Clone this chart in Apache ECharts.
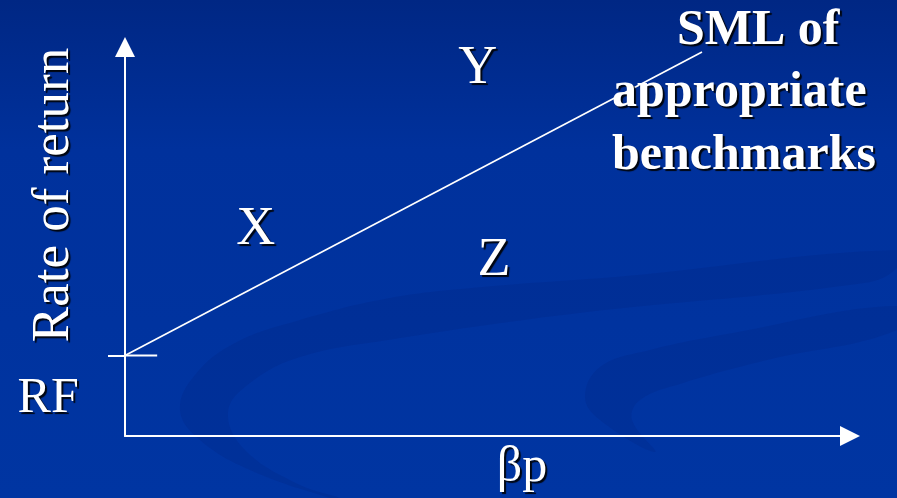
<!DOCTYPE html>
<html>
<head>
<meta charset="utf-8">
<script src="https://cdn.jsdelivr.net/npm/echarts@6/dist/echarts.min.js"></script>
<style>
html, body { margin: 0; padding: 0; background: #0033a0; }
#chart { width: 897px; height: 498px; }
</style>
</head>
<body>
<div id="chart"></div>
<script>
// axis ranges (beta on x, rate of return on y)
var betaMin = 0, betaMax = 2;
var returnMin = 0, returnMax = 20;

// security market line, starting at the risk free rate
var rfReturn = 4.25;
var smlBeta = [0, 1.614];
var smlReturn = [rfReturn, 20.26];

// short tick that marks RF, right hand part (left part is the axis tick)
var rfTickBeta = [0, 0.09];
var rfTickReturn = [rfReturn, rfReturn];

// portfolio labels
var pointNames = ['X', 'Y', 'Z', 'RF'];
var pointBeta = [0.366, 0.987, 1.032, -0.215];
var pointReturn = [10.9, 19.4, 9.25, 1.98];

var titleLines = ['SML of', 'appropriate', 'benchmarks'];

var serif = 'Liberation Serif';
var shadow = {
    textShadowColor: 'rgba(0,0,0,0.9)',
    textShadowBlur: 1,
    textShadowOffsetX: 2,
    textShadowOffsetY: 2
};

function pairs(xs, ys) {
    return xs.map(function (x, i) { return [x, ys[i]]; });
}

var labelData = pointNames.map(function (n, i) {
    return {
        name: n,
        value: [pointBeta[i], pointReturn[i]],
        label: { fontSize: n === 'RF' ? 50 : 54 }
    };
});

var myChart = echarts.init(document.getElementById('chart'));

option = {
    animation: false,
    graphic: [
        {
            type: 'rect', z: -100, silent: true,
            shape: { x: 0, y: 0, width: 897, height: 498 },
            style: {
                fill: {
                    type: 'linear', x: 0, y: 0, x2: 0, y2: 1,
                    colorStops: [
                        { offset: 0, color: '#002784' },
                        { offset: 0.3, color: '#00319c' },
                        { offset: 1, color: '#0035a2' }
                    ]
                }
            }
        },
        {
            type: 'polygon', z: -90, silent: true,
            shape: {
                smooth: 0.4,
                points: [[330,498],[250,470],[200,440],[180,410],[195,375],[235,343],[300,320],[390,298],[483,287],[626,276],[897,250],
                         [897,268],[864,283],[579,313],[388,340],[300,357],[250,383],[228,412],[245,450],[300,485],[340,498]]
            },
            style: { fill: 'rgba(0,30,110,0.15)' }
        },
        {
            type: 'polygon', z: -90, silent: true,
            shape: {
                smooth: 0.4,
                points: [[655,452],[600,420],[585,397],[600,367],[650,350],[733,333],[897,306],
                         [897,330],[767,360],[683,383],[640,400],[632,420]]
            },
            style: { fill: 'rgba(0,30,110,0.15)' }
        },
        {
            type: 'text', left: 677, top: 6, z: 10,
            style: Object.assign({ text: titleLines[0], fill: '#fff', font: 'bold 50px Liberation Serif' }, shadow)
        },
        {
            type: 'text', left: 612, top: 68, z: 10,
            style: Object.assign({ text: titleLines[1], fill: '#fff', font: 'bold 50px Liberation Serif' }, shadow)
        },
        {
            type: 'text', left: 612, top: 131, z: 10,
            style: Object.assign({ text: titleLines[2], fill: '#fff', font: 'bold 50px Liberation Serif' }, shadow)
        }
    ],
    grid: {
        left: 125,
        right: 57,
        top: 57,
        bottom: 62,
        outerBoundsMode: 'none'
    },
    xAxis: {
        type: 'value',
        min: betaMin,
        max: betaMax,
        name: 'βp',
        nameLocation: 'middle',
        nameGap: 7,
        nameTextStyle: Object.assign({
            color: '#ffffff', fontFamily: serif, fontSize: 50,
            padding: [0, 0, 0, 79]
        }, shadow),
        axisLine: {
            show: true,
            symbol: ['none', 'triangle'],
            symbolSize: [20, 20],
            symbolOffset: [0, 10],
            lineStyle: { color: '#fff', width: 2 }
        },
        axisTick: { show: false },
        axisLabel: { show: false },
        splitLine: { show: false }
    },
    yAxis: {
        type: 'value',
        min: returnMin,
        max: returnMax,
        name: 'Rate of return',
        nameLocation: 'middle',
        nameGap: 44,
        nameTextStyle: Object.assign({
            color: '#ffffff', fontFamily: serif, fontSize: 53,
            padding: [0, 0, 0, 103]
        }, shadow),
        axisLine: {
            show: true,
            symbol: ['none', 'triangle'],
            symbolSize: [20, 20],
            symbolOffset: [0, 10],
            lineStyle: { color: '#fff', width: 2 }
        },
        axisTick: {
            show: true,
            customValues: [rfReturn],
            length: 17,
            lineStyle: { color: '#fff', width: 2 }
        },
        axisLabel: { show: false },
        splitLine: { show: false }
    },
    series: [
        {
            name: 'SML',
            type: 'line',
            data: pairs(smlBeta, smlReturn),
            symbol: 'none',
            clip: false,
            silent: true,
            lineStyle: { color: '#fff', width: 1.7 }
        },
        {
            name: 'RF tick',
            type: 'line',
            data: pairs(rfTickBeta, rfTickReturn),
            symbol: 'none',
            clip: false,
            silent: true,
            lineStyle: { color: '#fff', width: 2 }
        },
        {
            name: 'Portfolios',
            type: 'scatter',
            data: labelData,
            symbolSize: 0,
            clip: false,
            silent: true,
            itemStyle: { color: '#fff', opacity: 1 },
            label: Object.assign({
                show: true,
                position: 'inside',
                formatter: '{b}',
                color: '#ffffff',
                fontFamily: serif,
                fontSize: 54
            }, shadow)
        }
    ]
};
myChart.setOption(option);
</script>
</body>
</html>
